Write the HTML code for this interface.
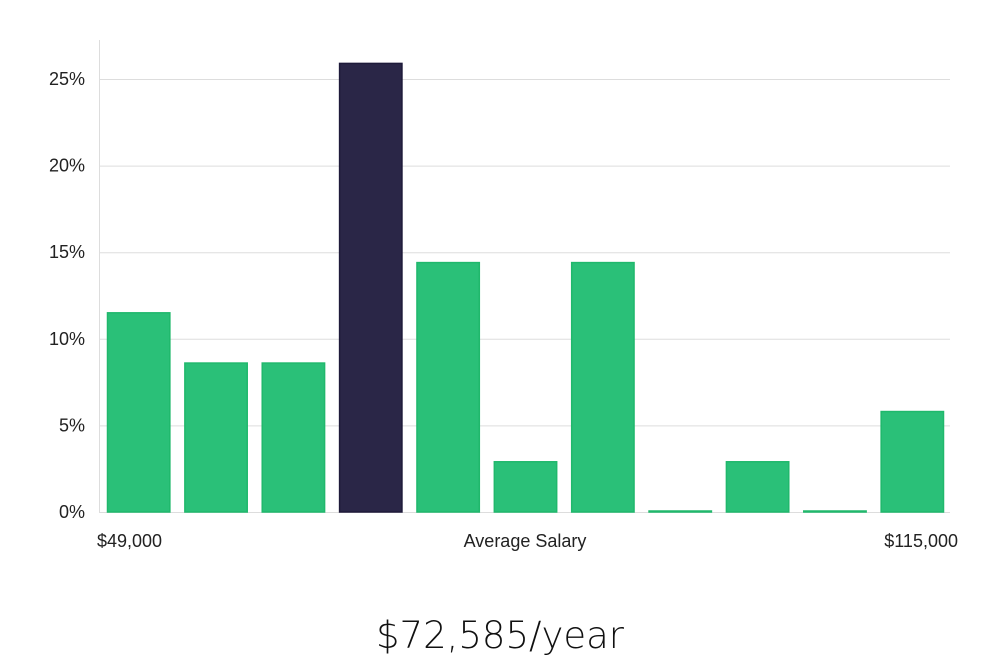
<!DOCTYPE html>
<html><head><meta charset="utf-8"><style>
html,body{margin:0;padding:0;background:#fff;width:1000px;height:660px;overflow:hidden;font-family:"Liberation Sans","DejaVu Sans",sans-serif;}
</style></head><body>
<svg width="1000" height="660" xmlns="http://www.w3.org/2000/svg">
<g id="grid"></g>
<line x1="99.5" y1="40" x2="99.5" y2="512" stroke="#ddd"/>
<g id="bars"></g>
<g id="yt"></g>
<text x="97" y="547" font-size="18" fill="#222">$49,000</text>
<text x="525" y="547" font-size="18" fill="#222" text-anchor="middle">Average Salary</text>
<text x="958" y="547" font-size="18" fill="#222" text-anchor="end">$115,000</text>
<text x="500" y="648" font-size="37" fill="#111" text-anchor="middle" font-family="DejaVu Sans, sans-serif" font-weight="200">$72,585/year</text>
</svg>
<script>
const values = [11.5, 8.6, 8.6, 25.9, 14.4, 2.9, 14.4, 0, 2.9, 0, 5.8];
const highlight = [false, false, false, true, false, false, false, false, false, false, false];
const yTicks = [0, 5, 10, 15, 20, 25];
const yTickLabels = ["0%", "5%", "10%", "15%", "20%", "25%"];
const NS = "http://www.w3.org/2000/svg";
const x0 = 99, x1 = 950, yBase = 512, pxPer = 17.32;
const y = v => yBase - v * pxPer;
const step = (x1 - x0) / values.length;
const grid = document.getElementById('grid'), yt = document.getElementById('yt'), bars = document.getElementById('bars');
yTicks.forEach((t, i) => {
  const l = document.createElementNS(NS, 'line');
  
  
  l.setAttribute('x1', x0); l.setAttribute('x2', x1);
  l.setAttribute('y1', y(t) + 0.5); l.setAttribute('y2', y(t) + 0.5);
  l.setAttribute('stroke', '#ddd');
  grid.appendChild(l);
  const tx = document.createElementNS(NS, 'text');
  
  
  tx.setAttribute('x', 85); tx.setAttribute('y', y(t) + 6);
  tx.setAttribute('text-anchor', 'end'); tx.setAttribute('font-size', '18'); tx.setAttribute('fill', '#222');
  tx.textContent = yTickLabels[i];
  yt.appendChild(tx);
});
values.forEach((v, i) => {
  const r = document.createElementNS(NS, 'rect');
  
  
  const h = Math.max(v * pxPer, 1);
  r.setAttribute('x', x0 + i * step + 8.5);
  r.setAttribute('width', step - 15);
  r.setAttribute('y', yBase - h);
  r.setAttribute('height', h);
  r.setAttribute('fill', highlight[i] ? '#2a2647' : '#2ac078');
  r.setAttribute('stroke', highlight[i] ? '#1e1a3a' : '#20b86c');
  r.setAttribute('stroke-width', '1.5');
  bars.appendChild(r);
});
</script>
</body></html>
